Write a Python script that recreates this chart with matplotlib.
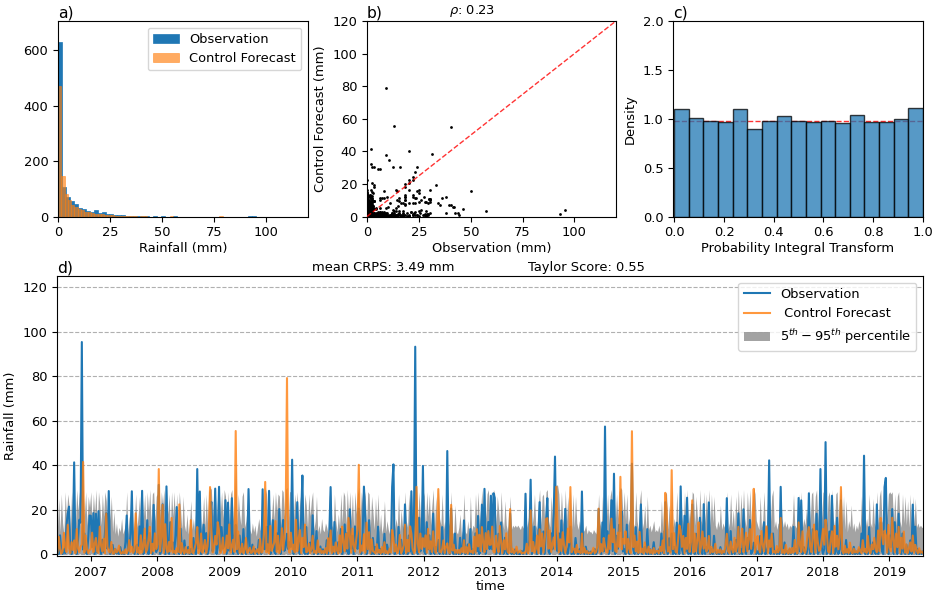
import numpy as np
import pandas as pd
import matplotlib
matplotlib.use('Agg')
import matplotlib.pyplot as plt
import matplotlib.dates as mdates

plt.rcParams['font.family'] = ['DejaVu Sans']
plt.rcParams['font.size'] = 9.4

# ---------------- data ----------------
# panel a: histogram counts
obs_hist_max = 95.0
obs_counts = [628, 105, 72, 55, 44, 30, 26, 20, 18, 22,
              12, 17, 9, 8, 6, 7, 5, 2, 1, 2,
              1, 1, 1, 0, 1, 0, 1, 0, 0, 1,
              0, 0, 0, 0, 0, 0, 0, 0, 0, 0,
              0, 0, 0, 0, 0, 0, 0, 0, 1, 1]
fc_hist_max = 79.0
fc_counts = [472, 146, 80, 58, 42, 34, 28, 24, 18, 15,
             12, 10, 9, 8, 6, 5, 4, 3, 3, 2,
             2, 1, 1, 1, 0, 1, 1, 0, 0, 0,
             0, 0, 0, 0, 1, 0, 0, 0, 0, 0,
             0, 0, 0, 0, 0, 0, 0, 0, 0, 1]

# panel c: PIT histogram
pit_density = [1.10, 1.01, 0.98, 0.965, 1.10, 0.90, 0.98, 1.025, 0.98,
               0.965, 0.98, 0.955, 1.04, 0.965, 0.965, 1.00, 1.11]
pit_ref = 0.98

# panel d: weekly series, 2006-07 .. 2019-06 (one line = 13 weeks)
ts_start = '2006-07-01'
ts_end = '2019-07-04'
obs = [
    3.2, 0, 8.4, 1.3, 0, 2.1, 0.4, 12.5, 18.2, 21.3, 0.8, 0, 4.6,
    41.2, 1.6, 0, 6.3, 15.4, 14.1, 95.3, 2.0, 9.2, 0.7, 0, 7.1, 17.3,
    17.2, 3.1, 18.4, 0, 18.1, 0.6, 19.3, 2.2, 0, 6.4, 0.9, 9.1, 18.3,
    2.4, 28.3, 0, 1.2, 4.1, 0, 2.3, 0.2, 1.4, 0, 3.1, 0, 0.8,
    0, 5.2, 17.3, 0, 2.4, 9.1, 28.2, 1.1, 0, 3.3, 4.2, 0, 12.4,
    2.1, 28.4, 0, 6.2, 1.3, 15.2, 0, 9.4, 2.3, 0, 22.1, 3.2, 0.9,
    2.2, 31.1, 0, 1.4, 22.3, 3.1, 0, 30.4, 1.2, 0, 14.3, 2.1, 5.2,
    0, 8.3, 21.1, 1.2, 0, 11.4, 2.2, 0, 6.1, 0, 1.3, 3.2, 0,
    2.3, 0, 7.2, 1.1, 0, 38.2, 2.4, 28.1, 0, 4.3, 13.2, 1.1, 9.4,
    0, 2.2, 16.1, 23.4, 1.2, 6.3, 29.4, 0, 3.1, 30.2, 1.3, 12.1, 2.4,
    3.3, 24.2, 0, 23.1, 1.4, 2.2, 25.1, 0, 6.2, 13.1, 1.2, 0, 8.3,
    2.1, 0, 11.2, 1.3, 0, 2.4, 29.2, 1.1, 0, 4.2, 0, 2.3, 0.7,
    0, 6.3, 1.2, 0, 29.1, 2.3, 2.1, 12.2, 1.3, 28.4, 0, 3.1, 15.2,
    1.2, 0, 9.3, 2.1, 20.2, 0, 7.1, 15.3, 1.4, 3.2, 9.1, 2.2, 5.3,
    3.2, 42.4, 0, 1.1, 8.2, 23.3, 2.4, 0, 16.2, 35.3, 1.2, 0, 12.1,
    0, 2.3, 5.1, 1.2, 17.4, 0, 2.2, 10.3, 0, 1.1, 3.4, 0, 2.1,
    1.3, 0, 6.2, 0, 9.3, 30.1, 1.2, 0, 14.4, 2.1, 0, 5.3, 1.1,
    11.2, 0, 2.1, 13.3, 1.2, 9.4, 0, 20.1, 2.3, 8.2, 0, 12.4, 3.1,
    2.3, 20.4, 1.1, 0, 9.2, 30.3, 17.1, 0, 2.4, 15.2, 1.3, 0, 7.2,
    0, 3.2, 1.1, 12.3, 0, 2.2, 0, 1.3, 9.1, 0, 4.2, 1.2, 0,
    2.1, 30.2, 40.3, 0, 3.2, 1.3, 12.2, 0, 6.4, 1.2, 0, 22.3, 2.2,
    0, 8.3, 1.1, 28.2, 0, 13.1, 93.2, 2.4, 0, 16.3, 1.2, 4.3, 39.6,
    1.2, 0, 14.3, 2.1, 8.4, 0, 1.3, 18.2, 0, 3.1, 1.2, 6.3, 0,
    2.2, 12.1, 0, 1.3, 0, 46.3, 2.1, 0, 20.4, 1.1, 0, 9.2, 0,
    1.1, 0, 7.3, 0, 2.2, 15.1, 0, 1.2, 4.3, 0, 11.2, 0, 2.1,
    0, 9.3, 1.2, 17.1, 0, 3.3, 22.2, 1.1, 29.3, 0, 5.2, 14.4, 2.2,
    26.2, 2.1, 27.3, 25.2, 0, 1.3, 9.1, 0, 14.2, 2.2, 0, 7.3, 1.1,
    0, 3.1, 18.2, 0, 1.2, 0, 2.1, 0, 1.1, 0, 0, 1.3, 0,
    2.2, 27.1, 0, 1.3, 6.2, 33.4, 0, 3.1, 12.3, 1.1, 0, 8.2, 23.3,
    0, 2.2, 10.1, 0, 14.3, 25.1, 1.2, 0, 9.3, 2.1, 18.2, 43.8, 3.2,
    1.2, 9.3, 0, 15.1, 2.2, 0, 20.3, 1.1, 0, 4.2, 12.3, 0, 2.1,
    0, 7.2, 1.3, 0, 2.1, 0, 28.1, 1.2, 0, 3.3, 0, 1.1, 0,
    1.1, 0, 0, 2.2, 0, 1.3, 20.2, 3.1, 0, 14.2, 1.2, 57.3, 2.3,
    10.2, 0, 5.1, 24.2, 1.3, 36.1, 0, 8.2, 2.3, 13.1, 10.4, 19.2, 1.1,
    2.1, 0, 13.2, 1.1, 0, 8.3, 40.6, 2.2, 0, 12.1, 1.3, 0, 6.2,
    22.3, 0, 1.2, 3.1, 0, 11.2, 0, 2.2, 0, 1.1, 5.3, 0, 1.2,
    0, 2.1, 0, 9.2, 1.1, 0, 23.3, 2.2, 0, 7.1, 1.2, 9.2, 0,
    3.2, 0, 14.1, 1.2, 0, 30.4, 2.1, 0, 17.2, 1.1, 25.3, 0, 4.2,
    0, 22.2, 1.3, 0, 9.1, 2.2, 0, 16.3, 1.1, 0, 22.4, 0, 3.2,
    1.1, 23.2, 0, 2.3, 0, 8.2, 1.2, 0, 1.3, 0, 3.1, 0, 1.2,
    0, 2.2, 25.1, 0, 1.1, 10.3, 0, 2.1, 0, 6.2, 1.1, 18.3, 0,
    2.2, 0, 20.1, 1.3, 0, 7.2, 2.1, 15.3, 0, 1.2, 5.1, 3.2, 0,
    1.2, 0, 8.1, 0, 2.2, 14.3, 0, 1.1, 3.2, 42.1, 0, 2.3, 9.2,
    0, 1.2, 0, 2.1, 0, 30.2, 1.1, 0, 5.2, 0, 1.3, 0, 2.2,
    0, 1.1, 12.2, 0, 2.3, 0, 25.2, 1.2, 24.1, 0, 3.1, 1.2, 0,
    2.1, 27.3, 0, 1.2, 11.1, 0, 2.2, 18.1, 0, 1.3, 38.2, 3.1, 0,
    2.3, 50.3, 0, 1.2, 10.1, 0, 26.2, 3.1, 0, 1.2, 16.3, 0, 2.1,
    24.1, 0, 1.2, 0, 6.3, 0, 2.1, 0, 1.2, 0, 3.2, 0, 1.1,
    0, 2.1, 0, 9.2, 1.1, 44.2, 0, 2.3, 0, 12.1, 1.2, 0, 5.2,
    1.1, 0, 22.3, 0, 3.2, 14.1, 1.2, 0, 30.1, 34.2, 2.1, 0, 8.3,
    3.1, 20.2, 0, 14.3, 1.2, 0, 18.1, 2.2, 0, 9.2, 1.1, 0, 4.2,
    1.2, 0, 6.1, 0, 22.2, 1.1, 12.3, 0, 2.1, 0, 1.3, 0, 1.1,
]
fc = [
    0.6, 7.8, 2.4, 0.2, 1.1, 9.5, 3.2, 0.9, 13.1, 2.7, 0.4, 5.3, 1.8,
    6.1, 0.3, 11.2, 2.5, 0.9, 3.4, 4.2, 41.4, 0.6, 8.3, 2.2, 0.4, 1.7,
    2.3, 9.6, 0.8, 4.4, 7.2, 1.1, 0.5, 12.3, 3.6, 1.2, 6.8, 0.3, 18.2,
    3.1, 1.2, 0.6, 5.4, 0.4, 0.1, 2.3, 0.7, 1.3, 3.8, 0.5, 0.2, 1.1,
    0.3, 2.1, 0.4, 1.6, 6.2, 0.9, 3.3, 0.5, 1.8, 18.3, 0.7, 2.9, 0.2,
    8.4, 0.6, 3.2, 11.4, 0.8, 2.1, 6.7, 12.2, 0.4, 4.6, 1.3, 9.3, 2.2,
    4.3, 38.2, 1.2, 7.6, 22.1, 0.5, 13.4, 2.3, 0.8, 5.4, 1.1, 16.2, 0.6,
    1.4, 0.3, 2.6, 0.9, 22.3, 0.4, 4.8, 1.2, 0.2, 3.1, 0.6, 1.7, 0.3,
    15.2, 0.8, 0.3, 2.6, 5.1, 12.1, 0.4, 1.3, 9.2, 0.6, 2.4, 6.3, 0.5,
    3.4, 10.6, 30.1, 11.2, 0.7, 2.3, 8.1, 4.2, 14.3, 10.4, 0.5, 1.8, 7.4,
    0.4, 1.2, 8.3, 2.6, 13.3, 0.6, 3.1, 6.4, 0.9, 55.3, 2.2, 10.1, 0.5,
    0.8, 4.6, 0.3, 1.9, 7.2, 0.5, 1.3, 2.8, 0.4, 0.9, 3.4, 0.2, 1.2,
    2.1, 0.4, 6.8, 0.6, 1.3, 9.4, 32.4, 0.7, 4.3, 0.2, 12.6, 1.4, 3.1,
    5.2, 14.8, 0.9, 8.2, 0.4, 2.3, 11.6, 1.8, 7.4, 19.2, 79.1, 3.3, 0.6,
    9.6, 2.1, 4.2, 0.7, 15.4, 1.2, 6.3, 10.8, 0.4, 7.2, 3.1, 13.2, 0.8,
    1.1, 4.7, 0.4, 2.3, 8.2, 0.6, 1.4, 0.3, 6.1, 0.8, 2.2, 0.4, 1.3,
    0.5, 2.6, 0.3, 7.1, 1.2, 10.6, 0.4, 3.3, 0.9, 5.2, 1.6, 0.2, 8.4,
    0.7, 12.3, 5.4, 1.2, 9.1, 2.4, 16.2, 8.3, 0.6, 11.4, 4.2, 1.1, 6.7,
    11.2, 40.1, 0.6, 3.8, 1.4, 8.9, 0.5, 14.1, 2.2, 9.8, 0.4, 6.6, 1.3,
    0.9, 0.3, 4.4, 0.6, 1.8, 0.2, 3.1, 0.7, 5.3, 0.4, 1.2, 0.3, 2.4,
    0.6, 10.8, 7.2, 1.1, 4.3, 0.4, 2.1, 8.6, 0.3, 1.7, 3.9, 13.2, 0.5,
    6.3, 1.2, 12.4, 9.1, 2.6, 0.4, 1.6, 30.2, 4.8, 0.7, 9.2, 2.3, 7.1,
    3.2, 8.4, 0.6, 11.3, 2.1, 5.7, 0.9, 10.2, 3.4, 0.5, 7.3, 29.2, 1.1,
    0.7, 2.3, 6.1, 0.4, 3.2, 4.8, 1.1, 0.3, 22.1, 1.6, 4.2, 0.5, 1.8,
    0.4, 1.9, 0.3, 2.6, 0.8, 6.2, 0.5, 3.1, 0.2, 4.4, 0.9, 1.3, 0.4,
    7.8, 0.6, 11.2, 3.4, 8.6, 1.3, 12.1, 5.2, 0.8, 9.4, 2.2, 10.3, 4.1,
    4.2, 12.3, 1.1, 0.6, 8.2, 3.4, 0.8, 12.6, 5.1, 0.4, 6.2, 2.1, 9.3,
    1.2, 0.4, 20.2, 0.7, 2.4, 0.3, 1.1, 3.3, 0.5, 0.9, 1.6, 0.2, 0.6,
    0.5, 0.8, 4.6, 0.3, 2.8, 19.6, 1.2, 5.4, 0.6, 2.1, 8.3, 0.4, 11.1,
    3.4, 9.2, 0.6, 6.3, 15.8, 16.1, 2.4, 10.6, 0.9, 4.2, 7.4, 2.0, 30.2,
    12.4, 0.7, 6.6, 1.3, 9.8, 4.2, 0.5, 3.3, 11.4, 5.2, 30.1, 0.8, 2.6,
    2.3, 0.4, 4.1, 0.8, 1.2, 0.3, 9.2, 0.6, 2.7, 0.4, 1.3, 0.2, 0.7,
    0.3, 1.2, 2.8, 0.4, 0.9, 3.6, 20.4, 0.6, 4.4, 1.1, 7.2, 3.5, 0.8,
    0.6, 8.4, 2.2, 15.9, 5.3, 11.1, 1.4, 0.9, 9.6, 3.2, 34.7, 2.1, 6.8,
    4.6, 10.2, 0.7, 6.8, 2.2, 0.4, 55.2, 3.1, 8.3, 1.2, 5.6, 0.5, 9.9,
    0.8, 2.4, 0.3, 5.2, 1.1, 0.6, 3.3, 0.4, 1.8, 0.2, 2.7, 0.5, 1.3,
    1.4, 0.3, 3.2, 1.2, 6.1, 0.4, 27.5, 20.3, 1.1, 2.9, 0.6, 37.7, 2.2,
    9.3, 1.1, 0.6, 6.4, 12.8, 10.5, 3.2, 8.1, 0.4, 7.2, 2.3, 13.6, 0.9,
    5.4, 24.1, 0.7, 9.2, 1.2, 6.3, 14.2, 0.5, 3.8, 10.1, 2.4, 7.2, 1.1,
    2.3, 8.1, 0.4, 3.2, 0.8, 1.2, 4.6, 0.3, 1.9, 0.6, 2.1, 0.2, 1.4,
    0.7, 4.2, 9.1, 1.3, 0.4, 5.6, 2.2, 0.6, 7.3, 1.1, 3.4, 12.2, 0.5,
    6.2, 11.4, 0.8, 4.3, 9.6, 1.2, 7.4, 11.2, 2.3, 13.1, 29.3, 0.6, 5.2,
    8.1, 2.4, 0.6, 10.3, 4.2, 1.1, 6.8, 12.4, 0.5, 6.1, 3.2, 9.1, 0.7,
    1.3, 0.4, 3.6, 0.7, 2.2, 16.2, 0.5, 1.8, 0.3, 4.1, 0.9, 0.2, 2.6,
    0.4, 2.7, 0.6, 6.3, 1.2, 0.3, 14.2, 4.1, 0.8, 10.2, 1.6, 0.5, 3.3,
    9.2, 12.1, 3.4, 0.8, 8.3, 13.2, 0.6, 10.4, 5.2, 1.4, 2.1, 6.2, 11.3,
    4.2, 15.4, 9.3, 1.1, 0.7, 6.4, 10.2, 0.5, 12.6, 3.3, 8.2, 2.1, 7.4,
    30.1, 1.4, 0.3, 3.8, 0.6, 2.2, 0.4, 5.1, 1.1, 0.3, 2.4, 0.7, 1.2,
    0.6, 3.1, 1.2, 0.4, 6.2, 1.0, 2.3, 0.5, 8.1, 1.4, 0.3, 4.2, 2.1,
    7.3, 2.2, 0.8, 10.6, 1.3, 16.2, 9.1, 4.4, 10.5, 8.2, 0.6, 13.1, 2.8,
    1.2, 16.3, 6.4, 0.7, 9.2, 3.1, 12.2, 0.5, 7.3, 2.4, 10.1, 0.6, 4.3,
    0.4, 2.3, 5.2, 1.1, 8.3, 0.6, 4.1, 1.8, 0.3, 2.6, 0.5, 1.2, 0.4,
]
upper95 = [
    12, 25, 10, 27, 14, 9, 28, 16, 27, 22, 11, 28, 15,
    27, 13, 29, 19, 28, 12, 27, 29, 17, 28, 13, 26, 21,
    28, 14, 27, 18, 29, 12, 28, 22, 13, 27, 17, 28, 24,
    12, 28, 15, 26, 10, 19, 9, 14, 8, 12, 10, 16, 9,
    11, 14, 28, 9, 17, 12, 28, 10, 15, 27, 12, 18, 26,
    13, 29, 16, 27, 12, 28, 19, 29, 14, 27, 28, 15, 26,
    27, 31, 15, 28, 22, 29, 13, 30, 18, 27, 12, 28, 17,
    28, 14, 27, 12, 28, 20, 11, 26, 13, 10, 18, 9, 14,
    24, 11, 16, 10, 22, 28, 13, 29, 11, 15, 26, 12, 27,
    14, 28, 30, 29, 17, 28, 30, 15, 27, 31, 18, 28, 16,
    29, 26, 16, 28, 13, 27, 29, 15, 24, 40, 12, 27, 18,
    13, 26, 28, 12, 15, 22, 29, 11, 9, 14, 10, 13, 8,
    12, 16, 11, 10, 28, 14, 30, 27, 12, 29, 11, 17, 27,
    15, 28, 19, 27, 26, 13, 29, 28, 17, 29, 30, 14, 28,
    28, 30, 14, 27, 20, 28, 12, 26, 17, 29, 13, 27, 22,
    12, 27, 17, 24, 28, 11, 15, 26, 10, 13, 9, 16, 11,
    10, 14, 12, 9, 26, 30, 13, 11, 27, 15, 10, 18, 12,
    27, 14, 28, 26, 13, 29, 17, 28, 15, 27, 12, 28, 18,
    27, 30, 16, 28, 22, 30, 26, 13, 28, 27, 12, 26, 19,
    11, 25, 14, 27, 10, 18, 9, 13, 24, 10, 15, 11, 9,
    13, 30, 29, 11, 16, 12, 27, 10, 20, 13, 11, 28, 15,
    12, 27, 15, 29, 13, 28, 29, 30, 14, 28, 16, 27, 29,
    26, 12, 28, 17, 27, 13, 22, 29, 11, 26, 14, 30, 16,
    13, 27, 11, 15, 10, 30, 14, 12, 28, 10, 9, 22, 10,
    9, 12, 18, 8, 11, 27, 10, 9, 15, 8, 26, 10, 13,
    12, 27, 15, 28, 13, 20, 29, 14, 30, 16, 27, 29, 18,
    28, 16, 29, 27, 13, 26, 20, 12, 28, 15, 11, 24, 13,
    10, 14, 26, 11, 13, 12, 13, 12, 13, 12, 11, 13, 12,
    11, 28, 12, 15, 20, 29, 12, 17, 27, 13, 11, 22, 29,
    13, 26, 27, 14, 28, 29, 15, 12, 26, 16, 28, 30, 31,
    31, 27, 14, 28, 16, 12, 29, 15, 26, 13, 30, 11, 27,
    12, 26, 14, 11, 15, 12, 29, 10, 11, 13, 9, 11, 10,
    10, 9, 11, 10, 9, 12, 27, 14, 11, 26, 13, 29, 15,
    27, 13, 26, 29, 15, 30, 14, 27, 16, 28, 30, 29, 17,
    28, 15, 27, 13, 16, 26, 29, 14, 12, 28, 15, 11, 24,
    29, 11, 14, 22, 10, 26, 11, 13, 10, 12, 15, 10, 11,
    10, 13, 9, 24, 11, 10, 28, 27, 11, 22, 13, 30, 12,
    16, 12, 28, 14, 13, 30, 17, 12, 28, 14, 29, 13, 20,
    14, 28, 27, 13, 26, 17, 12, 29, 15, 13, 28, 14, 27,
    16, 29, 12, 27, 14, 26, 13, 11, 15, 12, 22, 11, 14,
    12, 16, 28, 11, 14, 27, 12, 20, 11, 26, 15, 29, 13,
    27, 14, 29, 16, 12, 28, 17, 29, 13, 24, 30, 27, 15,
    13, 11, 26, 12, 15, 28, 13, 12, 27, 28, 14, 26, 29,
    12, 15, 11, 14, 13, 30, 16, 12, 15, 12, 14, 11, 13,
    12, 14, 27, 13, 12, 11, 27, 14, 28, 12, 16, 13, 20,
    15, 29, 14, 27, 28, 13, 26, 29, 14, 27, 28, 16, 28,
    27, 29, 13, 26, 28, 14, 29, 16, 12, 27, 28, 13, 25,
    30, 12, 26, 11, 24, 10, 15, 12, 22, 11, 14, 10, 13,
    11, 15, 12, 26, 13, 28, 12, 16, 11, 27, 14, 12, 25,
    14, 12, 28, 13, 26, 29, 15, 13, 30, 29, 16, 27, 28,
    27, 28, 14, 27, 13, 26, 28, 15, 12, 27, 14, 26, 13,
    24, 12, 27, 11, 26, 13, 25, 12, 14, 12, 13, 12, 12,
]

rho_text = r'$\rho$: 0.23'
crps_text = 'mean CRPS: 3.49 mm'
taylor_text = 'Taylor Score: 0.55'

# ---------------- figure ----------------
blue = '#1f77b4'
orange = '#ff7f0e'

fig = plt.figure(figsize=(9.33, 5.93), dpi=100)
axa = fig.add_axes([0.0622, 0.6349, 0.2679, 0.3297])
axb = fig.add_axes([0.3934, 0.6349, 0.2668, 0.3297])
axc = fig.add_axes([0.7213, 0.6349, 0.2680, 0.3297])
axd = fig.add_axes([0.0616, 0.0624, 0.9277, 0.4722])

# a) histogram
obs_edges = np.linspace(0, obs_hist_max, len(obs_counts) + 1)
fc_edges = np.linspace(0, fc_hist_max, len(fc_counts) + 1)
axa.bar(obs_edges[:-1], obs_counts, width=np.diff(obs_edges), align='edge',
        color=blue, edgecolor=blue, linewidth=0.5, label='Observation')
axa.bar(fc_edges[:-1], fc_counts, width=np.diff(fc_edges), align='edge',
        color=orange, edgecolor=orange, linewidth=0.5, alpha=0.65,
        label='Control Forecast')
axa.set_xlim(0, 120)
axa.set_ylim(0, 705)
axa.set_xticks([0, 25, 50, 75, 100])
axa.set_yticks([0, 200, 400, 600])
axa.set_xlabel('Rainfall (mm)', labelpad=2)
axa.legend(loc='upper right')
axa.set_title('a)', loc='left', pad=2)

# b) scatter
n = min(len(obs), len(fc), len(upper95))
obs_a = np.array(obs[:n], dtype=float)
fc_a = np.array(fc[:n], dtype=float)
up_a = np.array(upper95[:n], dtype=float)
axb.scatter(obs_a, fc_a, s=4, c='k', linewidths=0, zorder=2)
axb.plot([0, 120], [0, 120], color='red', ls='--', lw=1, alpha=0.8, zorder=3)
axb.set_xlim(0, 120)
axb.set_ylim(0, 120)
axb.set_xticks([0, 25, 50, 75, 100])
axb.set_yticks([0, 20, 40, 60, 80, 100, 120])
axb.set_xlabel('Observation (mm)', labelpad=2)
axb.set_ylabel('Control Forecast (mm)')
axb.set_title('b)', loc='left', pad=2)
axb.text(0.329, 1.012, rho_text, transform=axb.transAxes, ha='left', va='bottom')

# c) PIT
nb = len(pit_density)
pit_edges = np.linspace(0, 1, nb + 1)
axc.plot([0, 1], [pit_ref, pit_ref], color='red', ls='--', lw=1, alpha=0.8, zorder=1)
axc.bar(pit_edges[:-1], pit_density, width=np.diff(pit_edges), align='edge',
        color=blue, alpha=0.75, edgecolor='black', linewidth=1, zorder=2)
axc.set_xlim(-0.005, 1.0)
axc.set_ylim(0, 2.0)
axc.set_xticks([0.0, 0.2, 0.4, 0.6, 0.8, 1.0])
axc.set_yticks([0.0, 0.5, 1.0, 1.5, 2.0])
axc.set_xlabel('Probability Integral Transform', labelpad=2)
axc.set_ylabel('Density')
axc.set_title('c)', loc='left', pad=2)

# d) time series
t0 = pd.Timestamp(ts_start).value
t1 = pd.Timestamp(ts_end).value
dates = pd.to_datetime(np.linspace(t0, t1, n))
axd.fill_between(dates, 0, up_a, color='grey', alpha=0.72, linewidth=0,
                 label=r'$5^{th} - 95^{th}$ percentile')
axd.plot(dates, obs_a, color=blue, lw=1.5, label='Observation')
axd.plot(dates, fc_a, color=orange, lw=1.5, alpha=0.8, label=' Control Forecast')
axd.set_xlim(dates[0], dates[-1])
axd.set_ylim(-0.9, 125)
axd.set_yticks([0, 20, 40, 60, 80, 100, 120])
axd.yaxis.grid(True, linestyle='--', color='#b0b0b0', linewidth=0.8)
axd.set_axisbelow(True)
axd.xaxis.set_major_locator(mdates.YearLocator())
axd.xaxis.set_major_formatter(mdates.DateFormatter('%Y'))
axd.set_xlabel('time', labelpad=1)
axd.set_ylabel('Rainfall (mm)')
axd.set_title('d)', loc='left', pad=2)
axd.text(0.294, 1.008, crps_text, transform=axd.transAxes, ha='left', va='bottom')
axd.text(0.544, 1.008, taylor_text, transform=axd.transAxes, ha='left', va='bottom')
h, l = axd.get_legend_handles_labels()
order = [l.index('Observation'), l.index(' Control Forecast'),
         l.index(r'$5^{th} - 95^{th}$ percentile')]
axd.legend([h[i] for i in order], [l[i] for i in order], loc='upper right')

fig.savefig('out.png', dpi=100)
